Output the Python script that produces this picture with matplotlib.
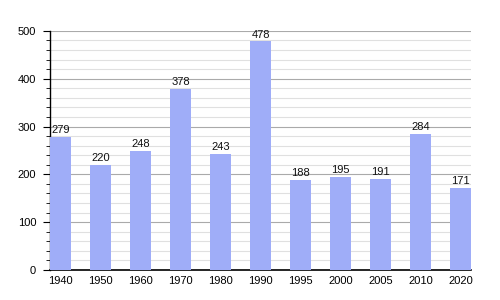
import matplotlib
matplotlib.use("Agg")
import matplotlib.pyplot as plt
from matplotlib.ticker import MultipleLocator

years = ["1940", "1950", "1960", "1970", "1980", "1990", "1995", "2000", "2005", "2010", "2020"]
population = [279, 220, 248, 378, 243, 478, 188, 195, 191, 284, 171]

plt.rcParams['font.family'] = ['Liberation Sans', 'DejaVu Sans']

fig = plt.figure(figsize=(5, 3), dpi=100)
ax = fig.add_axes([0.1, 0.1, 0.842, 0.797])

x = list(range(len(years)))
w = 0.525
ax.bar(x, population, width=w, color='#9fadf8', zorder=3)
for xi, v in zip(x, population):
    ax.text(xi, v + 4, str(v), ha='center', va='bottom', fontsize=8, color='#111111', zorder=4)

ax.set_xlim(-w / 2, len(years) - 1 + w / 2)
ax.set_ylim(0, 500)
ax.set_xticks(x)
ax.set_xticklabels(years)
ax.yaxis.set_major_locator(MultipleLocator(100))
ax.yaxis.set_minor_locator(MultipleLocator(20))
ax.grid(axis='y', which='major', color='#aaaaaa', linewidth=0.8, zorder=1)
ax.grid(axis='y', which='minor', color='#e0e0e0', linewidth=0.8, zorder=1)
ax.tick_params(axis='x', length=0, labelsize=8, pad=4)
ax.tick_params(axis='y', which='major', length=5, labelsize=8, pad=5)
ax.tick_params(axis='y', which='minor', length=3)
for s in ['top', 'right']:
    ax.spines[s].set_visible(False)
ax.spines['left'].set_linewidth(1)
ax.spines['bottom'].set_linewidth(1.2)

fig.savefig("out.png", dpi=100)
